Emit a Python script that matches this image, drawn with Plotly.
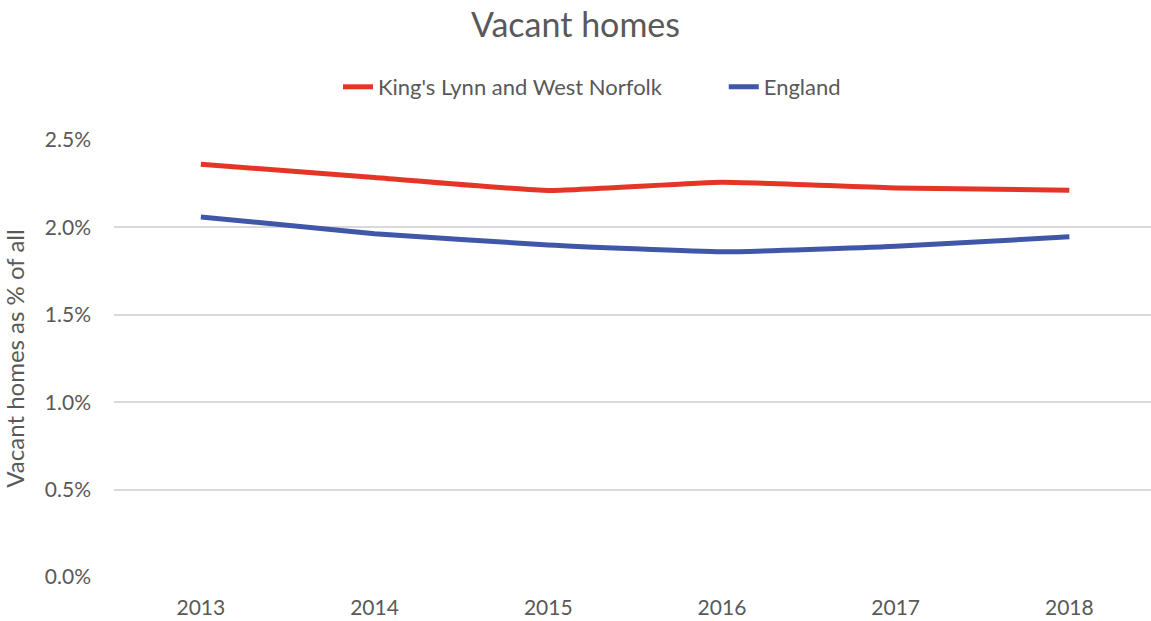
import plotly.graph_objects as go

years = ["2013", "2014", "2015", "2016", "2017", "2018"]
kings_lynn = [0.02361, 0.02285, 0.02211, 0.02258, 0.02226, 0.02212]
england = [0.02060, 0.01964, 0.01900, 0.01860, 0.01892, 0.01946]
y_ticks = [0, 0.005, 0.01, 0.015, 0.02, 0.025]

font_family = "Lato, Open Sans, sans-serif"
grey = "#595959"

fig = go.Figure()
fig.add_trace(go.Scatter(x=years, y=kings_lynn, mode="lines", name="King's Lynn and West Norfolk",
                         legend="legend",
                         line=dict(color="#E53527", width=5, shape="spline", smoothing=0.4)))
fig.add_trace(go.Scatter(x=years, y=england, mode="lines", name="England",
                         legend="legend2",
                         line=dict(color="#3F57A6", width=5, shape="spline", smoothing=0.4)))

leg_y = 1 + (140 - 87) / 437
fig.update_layout(
    width=1151, height=621,
    margin=dict(l=114, r=0, t=140, b=44, autoexpand=False),
    paper_bgcolor="white", plot_bgcolor="white",
    font=dict(family=font_family, color=grey, size=21),
    title=dict(text="Vacant homes", x=0.5, xanchor="center", y=1 - 25 / 621, yanchor="middle",
               font=dict(size=34, color=grey, family=font_family)),
    legend=dict(orientation="h", x=0.216, xanchor="left", y=leg_y, yanchor="middle",
                font=dict(size=22, color=grey), bgcolor="rgba(0,0,0,0)"),
    legend2=dict(orientation="h", x=0.588, xanchor="left", y=leg_y, yanchor="middle",
                 font=dict(size=22, color=grey), bgcolor="rgba(0,0,0,0)"),
    showlegend=True,
)
fig.update_xaxes(type="category", range=[-0.5, 5.47], showgrid=False, showline=False,
                 ticks="", tickfont=dict(size=21, color=grey), ticklabelstandoff=16)
fig.update_yaxes(range=[0, 0.025], tickvals=y_ticks, tickformat=".1%", showgrid=True,
                 gridcolor="#D9D9D9", gridwidth=1.5, zeroline=False, showline=False,
                 tickfont=dict(size=21, color=grey), ticklabelstandoff=22,
                 title=dict(text="Vacant homes as % of all", font=dict(size=24, color=grey), standoff=16))

fig.write_html("out.html", config={"displayModeBar": False},
               post_script="document.body.style.margin='0';document.body.style.overflow='hidden';")
